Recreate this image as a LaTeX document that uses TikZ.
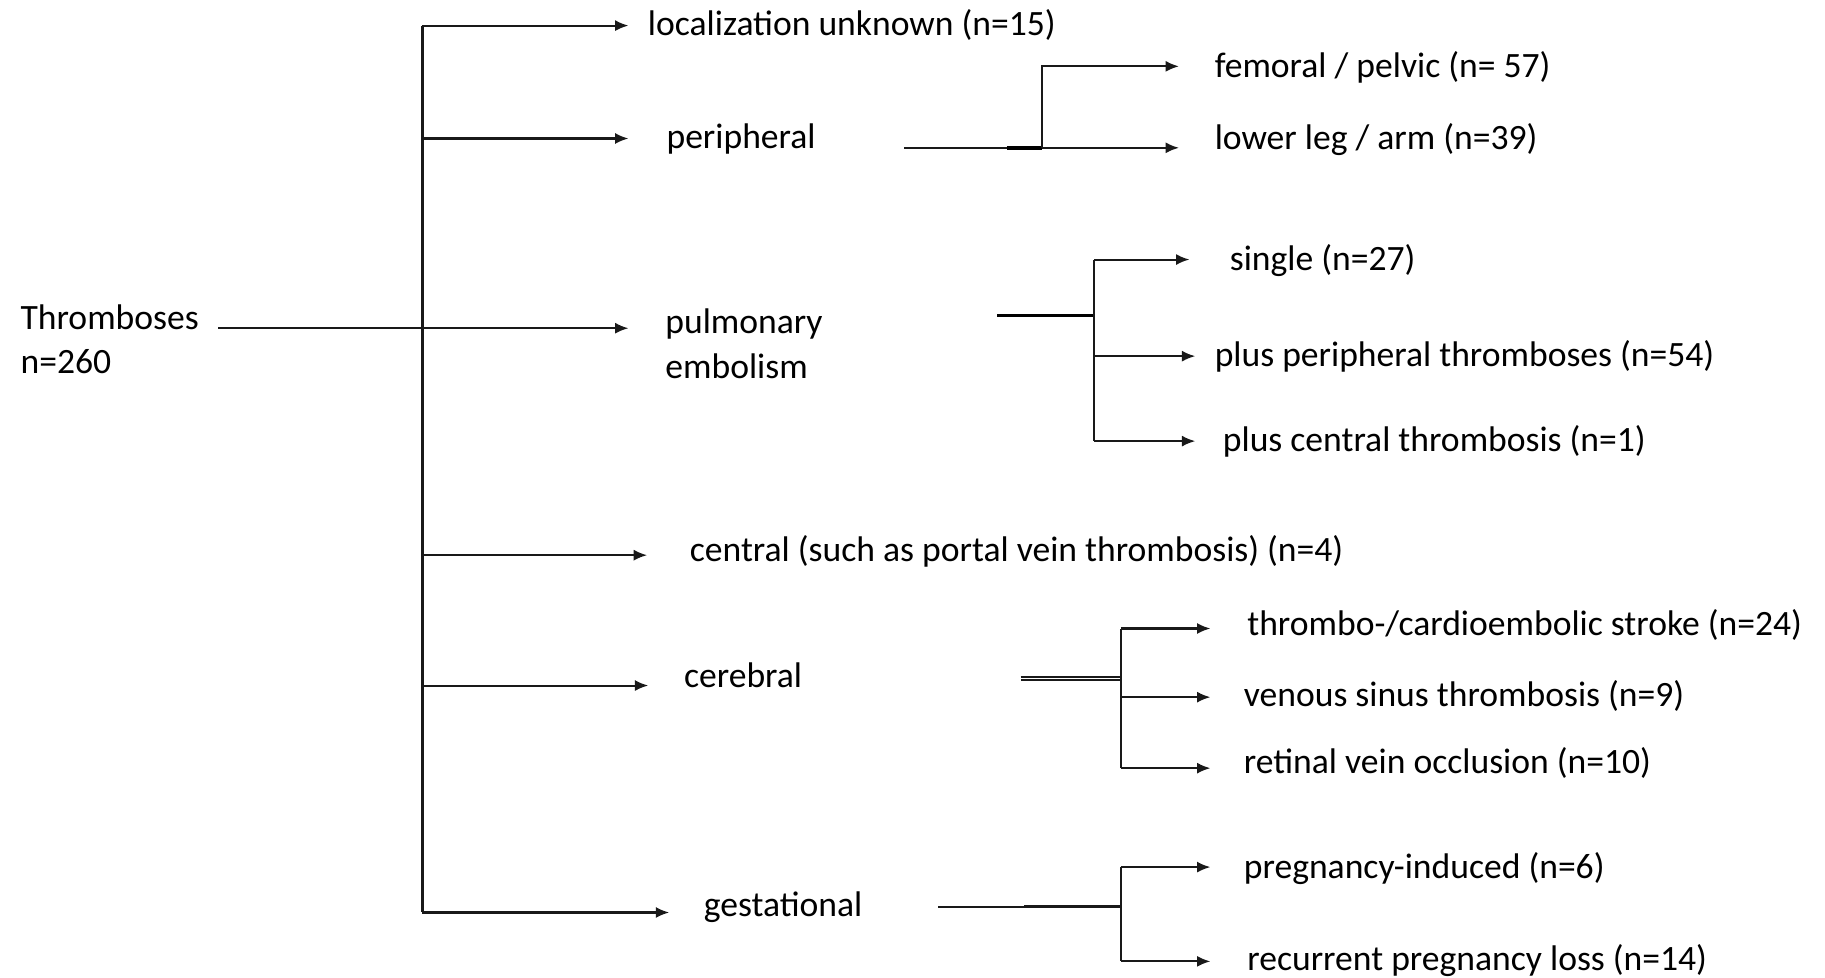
\documentclass[tikz,border=0pt]{standalone}
\usepackage{fontspec}
\setmainfont{Carlito}
\usetikzlibrary{arrows.meta}
\tikzset{lbl/.style={anchor=west, inner sep=0pt, text height=0.72em, text depth=0.22em, font=\fontsize{8.7}{10.8}\selectfont}}
\tikzset{ln/.style={draw=black!90, line width=0.5pt}}
\tikzset{arr/.style={ln, -{Latex[length=1.15mm,width=0.95mm]}}}
\tikzset{heavy/.style={draw=black, line width=0.9pt}}

\begin{document}
\begin{tikzpicture}[x=0.01cm,y=-0.01cm]
    \useasboundingbox (0,0) rectangle (1568,840);
    % first level
    \node[lbl,align=left](thr) at (17,312){Thromboses\\n=260};
    \node[lbl](unknown) at (556,22){localization unknown (n=15)};
    \node[lbl](periph) at (572,119){peripheral};
    \node[lbl,align=left](pulm) at (571,316){pulmonary\\embolism};
    \node[lbl](central) at (592,474){central (such as portal vein thrombosis) (n=4)};
    \node[lbl](cereb) at (587,582){cerebral};
    \node[lbl](gest) at (604,779){gestational};
    \coordinate (jUnk) at (363,22);
    \coordinate (jPer) at (363,119);
    \coordinate (jPul) at (363,282);
    \coordinate (jCen) at (363,477);
    \coordinate (jCer) at (363,589);
    \coordinate (jGes) at (363,784);
    \draw[ln](jUnk)--(jGes);
    \draw[arr]([xshift=1.6mm]thr.east |- jPul)--([xshift=-3.1mm]jPul -| pulm.west);
    \draw[arr](jUnk)--([xshift=-1.6mm]jUnk -| unknown.west);
    \draw[arr](jPer)--([xshift=-3.2mm]jPer -| periph.west);
    \draw[arr](jCen)--([xshift=-3.6mm]jCen -| central.west);
    \draw[arr](jCer)--([xshift=-3mm]jCer -| cereb.west);
    \draw[arr](jGes)--([xshift=-2.9mm]jGes -| gest.west);
    % peripheral
    \node[lbl](femoral) at (1043,58){femoral / pelvic (n= 57)};
    \node[lbl](lowleg) at (1043,120){lower leg / arm (n=39)};
    \coordinate (perOut) at (777,127);
    \coordinate (perJoin) at (865,127);
    \coordinate (perFork) at (895,127);
    \coordinate (perTop) at (895,57);
    \draw[arr](perOut)--([xshift=-3mm]perOut -| lowleg.west);
    \draw[heavy](perJoin)--(perFork);
    \draw[arr](perFork)--(perTop)--([xshift=-3mm]perTop -| femoral.west);
    % pulmonary embolism
    \node[lbl](single) at (1056,224){single (n=27)};
    \node[lbl](plusper) at (1043,306){plus peripheral thromboses (n=54)};
    \node[lbl](pluscen) at (1050,379){plus central thrombosis (n=1)};
    \coordinate (pulOut) at (857,271);
    \coordinate (pulFork) at (940,271);
    \coordinate (pulTop) at (940,223);
    \coordinate (pulMid) at (940,306);
    \coordinate (pulBot) at (940,379);
    \draw[heavy](pulOut)--(pulFork);
    \draw[ln](pulTop)--(pulBot);
    \draw[arr](pulTop)--([xshift=-3.4mm]pulTop -| single.west);
    \draw[arr](pulMid)--([xshift=-1.6mm]pulMid -| plusper.west);
    \draw[arr](pulBot)--([xshift=-2.3mm]pulBot -| pluscen.west);
    % cerebral
    \node[lbl](stroke) at (1071,537){thrombo-/cardioembolic stroke (n=24)};
    \node[lbl](sinus) at (1068,598){venous sinus thrombosis (n=9)};
    \node[lbl](retinal) at (1068,656){retinal vein occlusion (n=10)};
    \coordinate (cerOut) at (877,583);
    \coordinate (cerFork) at (963,583);
    \coordinate (cerTop) at (963,540);
    \coordinate (cerMid) at (963,599);
    \coordinate (cerBot) at (963,660);
    \draw[ln,double=white,double distance=0.25pt](cerOut)--(cerFork);
    \draw[ln](cerTop)--(cerBot);
    \draw[arr](cerTop)--([xshift=-3.1mm]cerTop -| stroke.west);
    \draw[arr](cerMid)--([xshift=-2.8mm]cerMid -| sinus.west);
    \draw[arr](cerBot)--([xshift=-2.8mm]cerBot -| retinal.west);
    % gestational
    \node[lbl](pregind) at (1068,746){pregnancy-induced (n=6)};
    \node[lbl](recloss) at (1071,825){recurrent pregnancy loss (n=14)};
    \coordinate (gesOut) at (806,779);
    \coordinate (gesJoin) at (880,779);
    \coordinate (gesFork) at (963,779);
    \coordinate (gesTop) at (963,745);
    \coordinate (gesBot) at (963,826);
    \draw[ln](gesOut)--(gesJoin);
    \draw[ln,line width=0.7pt](gesJoin)--(gesFork);
    \draw[ln](gesTop)--(gesBot);
    \draw[arr](gesTop)--([xshift=-2.8mm]gesTop -| pregind.west);
    \draw[arr](gesBot)--([xshift=-3.1mm]gesBot -| recloss.west);
\end{tikzpicture}
\end{document}
